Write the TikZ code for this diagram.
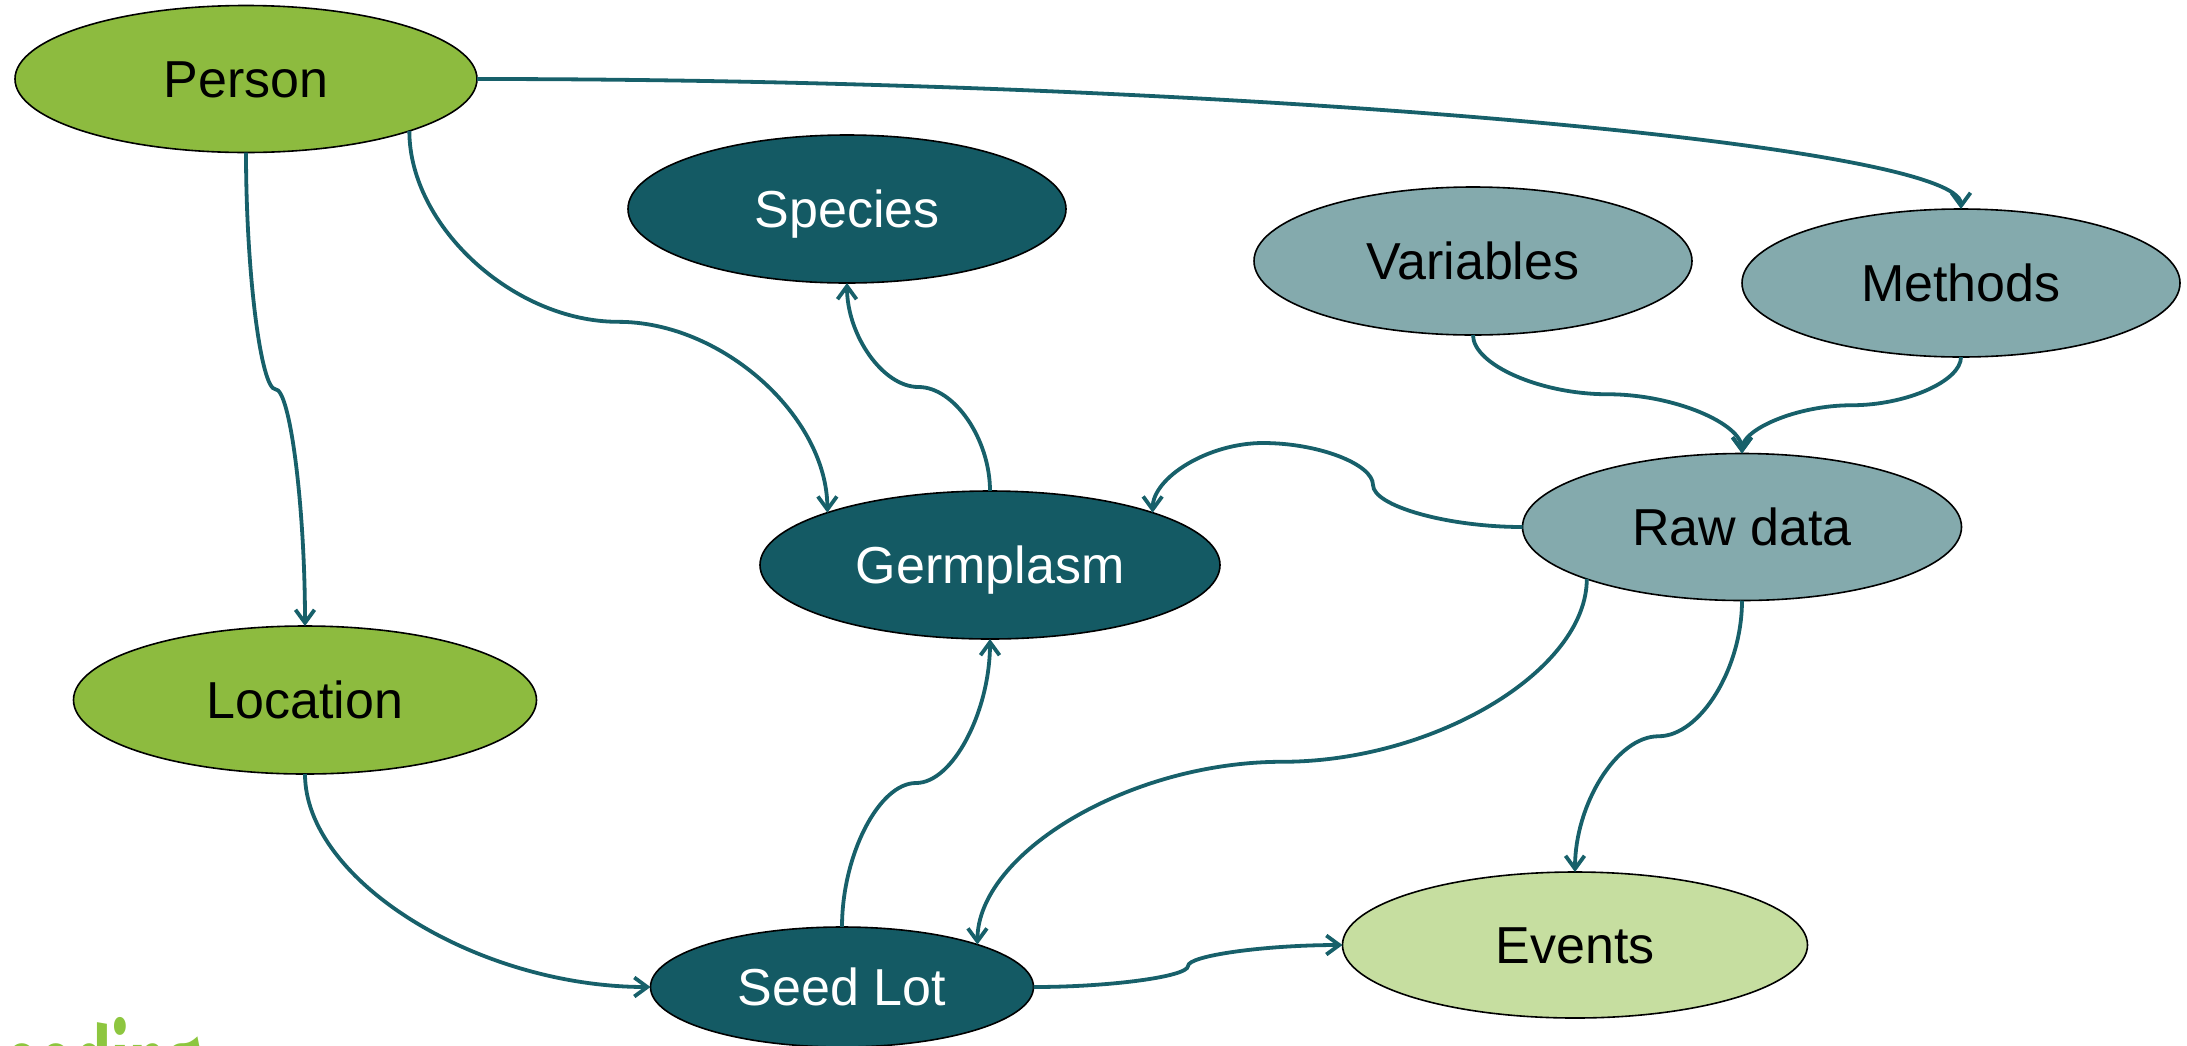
\documentclass[tikz,border=0pt]{standalone}
\usepackage{graphicx}
\usepackage{fontspec}
\setmainfont{Liberation Sans}
\newfontfamily\logofont{Fira Sans}
\usetikzlibrary{arrows.meta,calc,shapes.geometric}

\definecolor{leaf}{HTML}{8DBB3F}
\definecolor{deepteal}{HTML}{145A64}
\definecolor{greyteal}{HTML}{84AAAD}
\definecolor{paleleaf}{HTML}{C6DEA0}
\definecolor{linkteal}{HTML}{17606A}
\definecolor{logogreen}{HTML}{8DC63F}

\tikzset{
  entity/.style={ellipse, draw=black, line width=1.6pt, inner sep=0pt, outer sep=0pt,
    font=\fontsize{52}{60}\selectfont, text height=40pt, text depth=4pt},
  admin/.style={entity, fill=leaf, text=black},
  core/.style={entity, fill=deepteal, text=white},
  obs/.style={entity, fill=greyteal, text=black},
  evt/.style={entity, fill=paleleaf, text=black},
  conn/.style={draw=linkteal, line width=3.8pt,
    -{Straight Barb[length=13pt,width=19pt]}},
}

% vertical S-bend: leaves downward/upward, turns flat halfway, arrives vertically
\newcommand{\vsbend}[3][]{%
  \draw[conn,#1] let \p1=(#2), \p2=(#3) in
    (\p1) .. controls (\x1,{\y1+(\y2-\y1)/4}) and ({\x1+(\x2-\x1)/4},{(\y1+\y2)/2}) ..
    ({(\x1+\x2)/2},{(\y1+\y2)/2})
    .. controls ({\x1+3*(\x2-\x1)/4},{(\y1+\y2)/2}) and (\x2,{\y2-(\y2-\y1)/4}) .. (\p2);}

% horizontal S-bend: leaves sideways, turns upright halfway, arrives sideways
\newcommand{\hsbend}[3][]{%
  \draw[conn,#1] let \p1=(#2), \p2=(#3) in
    (\p1) .. controls ({\x1+(\x2-\x1)/4},\y1) and ({(\x1+\x2)/2},{\y1+(\y2-\y1)/4}) ..
    ({(\x1+\x2)/2},{(\y1+\y2)/2})
    .. controls ({(\x1+\x2)/2},{\y1+3*(\y2-\y1)/4}) and ({\x2-(\x2-\x1)/4},\y2) .. (\p2);}

\begin{document}
\begin{tikzpicture}[x=1pt,y=-1pt]
\useasboundingbox (0,0) rectangle (2187,1045);
\clip (0,0) rectangle (2187,1045);

% entities
\node[admin, minimum width=462pt, minimum height=147pt] (person)    at (246,79)   {Person};
\node[admin, minimum width=463pt, minimum height=148pt] (loc)       at (305,700)  {Location};
\node[core,  minimum width=438pt, minimum height=148pt] (species)   at (847,209)  {Species};
\node[core,  minimum width=460pt, minimum height=148pt] (germ)      at (990,565)  {Germplasm};
\node[core,  minimum width=383pt, minimum height=120pt] (seed)      at (842,987)  {Seed Lot};
\node[obs,   minimum width=438pt, minimum height=148pt] (variables) at (1473,261) {Variables};
\node[obs,   minimum width=438pt, minimum height=148pt] (methods)   at (1961,283) {Methods};
\node[obs,   minimum width=439pt, minimum height=147pt] (raw)       at (1742,527) {Raw data};
\node[evt,   minimum width=465pt, minimum height=146pt] (events)    at (1575,945) {Events};

% corner logo lettering, running off the lower edge
\node[anchor=base west, inner sep=0pt, text=logogreen,
  font=\logofont\bfseries\fontsize{100}{100}\selectfont] (logo) at (4,1098)
  {\scalebox{0.63}[1]{eeding}};

% links
\draw[conn] let \p1=(person.east), \p2=(methods.north) in
  (\p1) .. controls ({(\x1+\x2)/2},\y1) and (\x2,{(\y1+\y2)/2}) .. (\p2);
\vsbend{person.south}{loc.north}
\vsbend{person.south east}{germ.north west}
\vsbend{germ.north}{species.south}
\vsbend{variables.south}{raw.north}
\vsbend{methods.south}{raw.north}
\vsbend{raw.south west}{seed.north east}
\vsbend{raw.south}{events.north}
\vsbend{seed.north}{germ.south}
\hsbend{seed.east}{events.west}
\draw[conn] let \p1=(loc.south), \p2=(seed.west) in
  (\p1) .. controls (\x1,{(\y1+\y2)/2}) and ({(\x1+\x2)/2},\y2) .. (\p2);

% Raw data back to Germplasm, looping over the top
\coordinate (rk) at (1373,485);
\coordinate (rt) at (1263,443);
\draw[conn] (raw.west) .. controls +(-75,0) and +(0,21) .. (rk)
  .. controls +(0,-21) and +(55,0) .. (rt)
  .. controls +(-55,0) and +(0,-35) .. (germ.north east);
\end{tikzpicture}
\end{document}
